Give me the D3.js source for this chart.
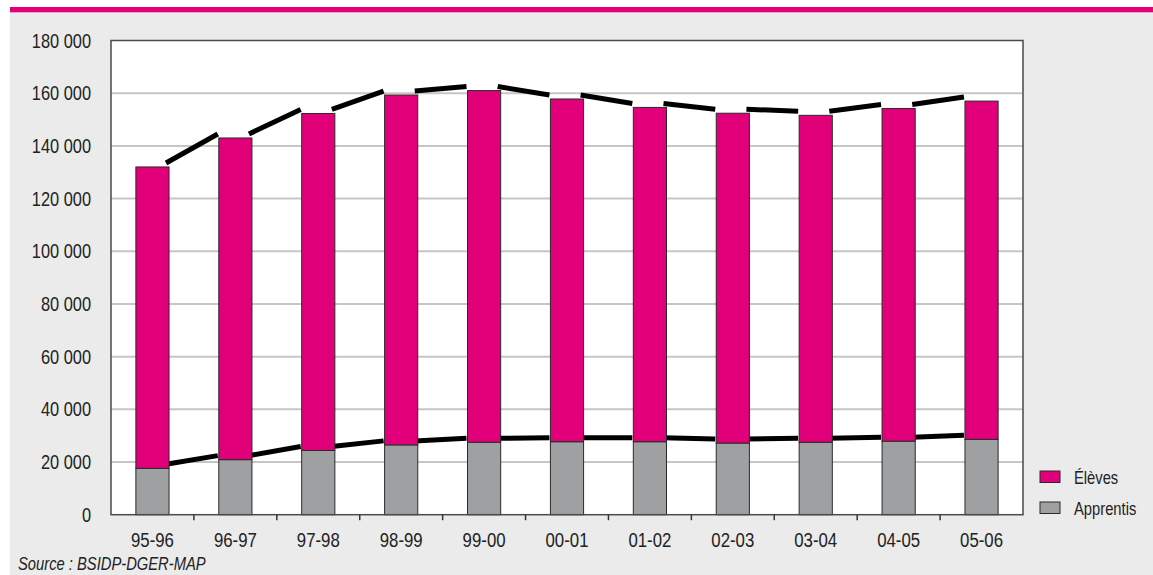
<!DOCTYPE html>
<html>
<head>
<meta charset="utf-8">
<script src="https://cdn.jsdelivr.net/npm/d3@7"></script>
<style>
  body { margin: 0; background: #fff; }
  svg { display: block; }
  text { font-family: "Liberation Sans", Arial, sans-serif; fill: #222; }
</style>
</head>
<body>
<div id="chart"></div>
<script>
// --------------- Data ---------------
const years = ["95-96", "96-97", "97-98", "98-99", "99-00", "00-01", "01-02", "02-03", "03-04", "04-05", "05-06"];
const apprentis = [17600, 20900, 24400, 26500, 27500, 27700, 27700, 27200, 27500, 27900, 28600];
const totals = [132000, 143000, 152300, 159300, 161000, 157800, 154600, 152400, 151600, 154200, 157000];
const eleves = totals.map((t, i) => t - apprentis[i]);
const yTicks = [0, 20000, 40000, 60000, 80000, 100000, 120000, 140000, 160000, 180000];
const legendItems = [
  { label: "Élèves", color: "#e2007a" },
  { label: "Apprentis", color: "#9fa0a2" },
];

// --------------- Constants ---------------
const WIDTH = 1153;
const HEIGHT = 575;
const PLOT = { left: 111, right: 1023, top: 40.5, bottom: 514.7 };
const PINK = "#e2007a";
const GREY = "#9fa0a2";
const NARROW = 0.82; // condensed look of the original type

const svg = d3.select("#chart").append("svg")
  .attr("width", WIDTH)
  .attr("height", HEIGHT);

// place text squeezed horizontally
const narrow = (sel, fx, fy) =>
  sel.attr("transform", (d, i) => `translate(${fx(d, i)},${fy(d, i)}) scale(${NARROW},1)`);

// background panel + top strip
svg.append("rect").attr("x", 10).attr("y", 12).attr("width", WIDTH - 10).attr("height", HEIGHT - 12).attr("fill", "#ebebeb");
svg.append("rect").attr("x", 10).attr("y", 7).attr("width", WIDTH - 10).attr("height", 5.3).attr("fill", PINK);

const x = d3.scaleBand().domain(years).range([PLOT.left, PLOT.right]).padding(0);
const y = d3.scaleLinear().domain([0, 180000]).range([PLOT.bottom, PLOT.top]);
const barW = x.bandwidth() * 0.4;
const barX = (d) => x(d) + (x.bandwidth() - barW) / 2;

// plot area
svg.append("rect")
  .attr("x", PLOT.left).attr("y", PLOT.top)
  .attr("width", PLOT.right - PLOT.left).attr("height", PLOT.bottom - PLOT.top)
  .attr("fill", "#fff");

// gridlines
svg.append("g")
  .selectAll("line")
  .data(yTicks.filter((t) => t > 0 && t < 180000))
  .join("line")
  .attr("x1", PLOT.left).attr("x2", PLOT.right)
  .attr("y1", (d) => y(d)).attr("y2", (d) => y(d))
  .attr("stroke", "#c6c6c6")
  .attr("stroke-width", 2);

// y labels
const fmt = (v) => d3.format(",")(v).replace(/,/g, " ");
svg.append("g")
  .selectAll("text")
  .data(yTicks)
  .join("text")
  .call(narrow, () => 91, (d) => y(d))
  .attr("dy", "0.35em")
  .attr("text-anchor", "end")
  .attr("font-size", 20)
  .text(fmt);

// series lines (behind bars)
const seriesLines = (tops) => d3.range(tops.length - 1).map((i) => ({
  x1: barX(years[i]) + barW - 3,
  y1: y(tops[i]) - 4,
  x2: barX(years[i + 1]) - 1,
  y2: y(tops[i + 1]) - 4,
}));
const lineG = svg.append("g");
[totals, apprentis].forEach((tops) => {
  lineG.append("g")
    .selectAll("line")
    .data(seriesLines(tops))
    .join("line")
    .attr("x1", (d) => d.x1).attr("y1", (d) => d.y1)
    .attr("x2", (d) => d.x2).attr("y2", (d) => d.y2)
    .attr("stroke", "#000")
    .attr("stroke-width", 5);
});

// stacked bars
const stack = d3.stack().keys(["apprentis", "eleves"]);
const rows = years.map((yr, i) => ({ year: yr, apprentis: apprentis[i], eleves: eleves[i] }));
const layers = stack(rows);
const colors = { apprentis: GREY, eleves: PINK };
svg.append("g")
  .selectAll("g")
  .data(layers)
  .join("g")
  .attr("fill", (d) => colors[d.key])
  .selectAll("rect")
  .data((d) => d)
  .join("rect")
  .attr("x", (d) => barX(d.data.year))
  .attr("y", (d) => y(d[1]))
  .attr("width", barW)
  .attr("height", (d) => y(d[0]) - y(d[1]))
  .attr("stroke", "#2a2a2a")
  .attr("stroke-width", 1);

// plot frame
svg.append("rect")
  .attr("x", PLOT.left).attr("y", PLOT.top)
  .attr("width", PLOT.right - PLOT.left).attr("height", PLOT.bottom - PLOT.top)
  .attr("fill", "none")
  .attr("stroke", "#4a4a4a")
  .attr("stroke-width", 1.5);

// x ticks at category boundaries
svg.append("g")
  .selectAll("line")
  .data(years.slice(1))
  .join("line")
  .attr("x1", (d) => x(d)).attr("x2", (d) => x(d))
  .attr("y1", PLOT.bottom).attr("y2", PLOT.bottom + 5.5)
  .attr("stroke", "#333")
  .attr("stroke-width", 1.5);

svg.append("g")
  .selectAll("text")
  .data(years)
  .join("text")
  .call(narrow, (d) => x(d) + x.bandwidth() / 2, () => PLOT.bottom + 32)
  .attr("text-anchor", "middle")
  .attr("font-size", 20.5)
  .text((d) => d);

// legend
const legend = svg.append("g")
  .selectAll("g")
  .data(legendItems)
  .join("g")
  .attr("transform", (d, i) => `translate(1040, ${471 + i * 31})`);
legend.append("rect")
  .attr("width", 20).attr("height", 11.5)
  .attr("fill", (d) => d.color)
  .attr("stroke", "#2a2a2a").attr("stroke-width", 1);
legend.append("text")
  .call(narrow, () => 34, () => 12.5)
  .attr("font-size", 18)
  .text((d) => d.label);

// source
svg.append("text")
  .datum("Source : BSIDP-DGER-MAP")
  .call(narrow, () => 18, () => 570)
  .attr("font-size", 18)
  .attr("font-style", "italic")
  .text((d) => d);
</script>
</body>
</html>
